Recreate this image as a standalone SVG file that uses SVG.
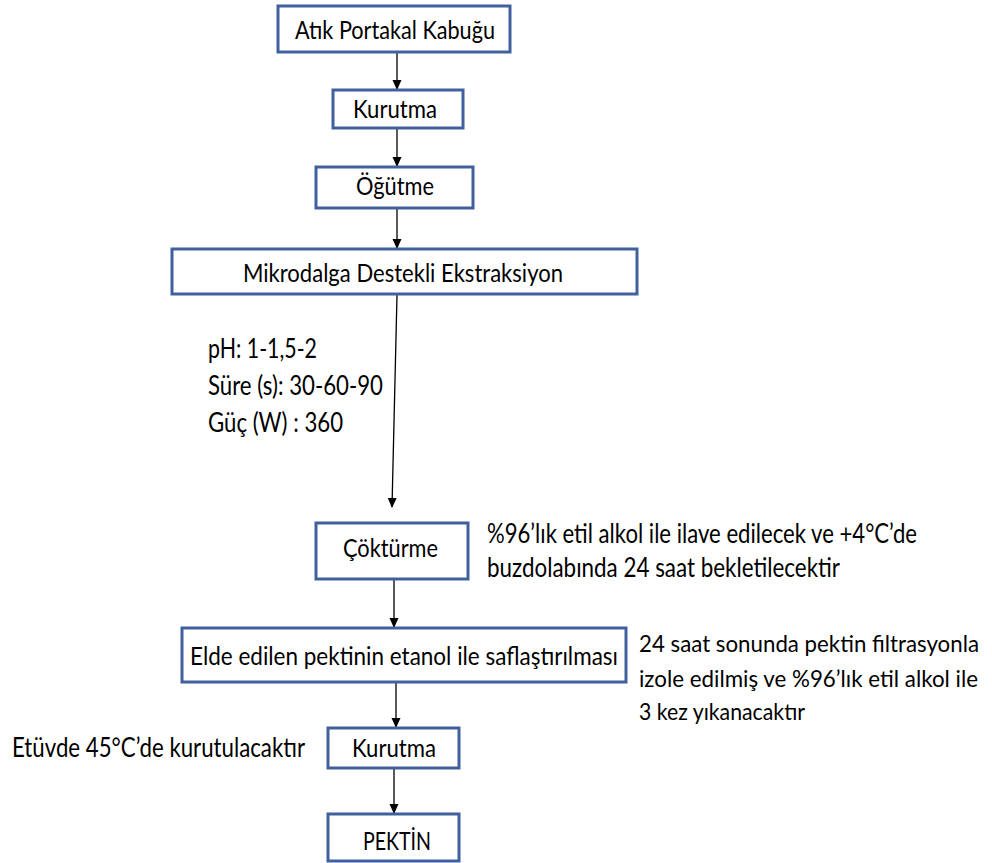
<svg xmlns="http://www.w3.org/2000/svg" width="992" height="863" viewBox="0 0 992 863">
<style>
.box{fill:#fff;stroke:#41609E;stroke-width:3}
.t{font-family:Lato,"Open Sans","Noto Sans",sans-serif;font-size:25px;fill:#000}
.s{font-family:Lato,"Open Sans","Noto Sans",sans-serif;font-size:26px;fill:#000}
.r{font-family:Lato,"Open Sans","Noto Sans",sans-serif;font-size:24px;fill:#000}
.c{stroke:#000;stroke-width:1.3;fill:none;marker-end:url(#ah)}
</style>
<defs>
<marker id="ah" markerWidth="10" markerHeight="12" refX="9" refY="5" orient="auto" markerUnits="userSpaceOnUse" viewBox="0 0 10 10">
<path d="M0,0.5 L10,5 L0,9.5 Z" fill="#000"/>
</marker>
</defs>
<rect width="992" height="863" fill="#fff"/>
<g id="connectors">
<line class="c" x1="397" y1="53" x2="397" y2="89"/>
<line class="c" x1="397" y1="129" x2="397" y2="166"/>
<line class="c" x1="397" y1="209" x2="397" y2="248"/>
<line class="c" x1="397" y1="295" x2="392" y2="507"/>
<line class="c" x1="394" y1="580" x2="394" y2="627"/>
<line class="c" x1="396" y1="683" x2="396" y2="727"/>
<line class="c" x1="394" y1="769" x2="394" y2="813"/>
</g>
<g id="n1"><rect class="box" x="278" y="6" width="232" height="46"/><text class="t" x="295" y="39" textLength="200" lengthAdjust="spacingAndGlyphs">Atık Portakal Kabuğu</text></g>
<g id="n2"><rect class="box" x="333" y="90" width="130" height="38"/><text class="t" x="353" y="118" textLength="84" lengthAdjust="spacingAndGlyphs">Kurutma</text></g>
<g id="n3"><rect class="box" x="316" y="167" width="157" height="41"/><text class="t" x="356" y="195" textLength="78" lengthAdjust="spacingAndGlyphs">Öğütme</text></g>
<g id="n4"><rect class="box" x="172" y="249" width="465" height="45"/><text class="t" x="243" y="282" textLength="320" lengthAdjust="spacingAndGlyphs">Mikrodalga Destekli Ekstraksiyon</text></g>
<g id="params">
<text class="s" x="208" y="358" textLength="109" lengthAdjust="spacingAndGlyphs">pH: 1-1,5-2</text>
<text class="s" x="208" y="395" textLength="175" lengthAdjust="spacingAndGlyphs">Süre (s): 30-60-90</text>
<text class="s" x="208" y="432" textLength="135" lengthAdjust="spacingAndGlyphs">Güç (W) : 360</text>
</g>
<g id="n5"><rect class="box" x="316" y="523" width="152" height="56"/><text class="t" x="343" y="557" textLength="95" lengthAdjust="spacingAndGlyphs">Çöktürme</text></g>
<g id="note1">
<text class="s" x="487" y="543" textLength="430" lengthAdjust="spacingAndGlyphs">%96’lık etil alkol ile ilave edilecek ve +4°C’de</text>
<text class="s" x="487" y="577" textLength="353" lengthAdjust="spacingAndGlyphs">buzdolabında 24 saat bekletilecektir</text>
</g>
<g id="n6"><rect class="box" x="182" y="628" width="444" height="54"/><text class="t" x="190" y="665" textLength="428" lengthAdjust="spacingAndGlyphs">Elde edilen pektinin etanol ile saflaştırılması</text></g>
<g id="note2">
<text class="r" x="639" y="652" textLength="340" lengthAdjust="spacingAndGlyphs">24 saat sonunda pektin filtrasyonla</text>
<text class="r" x="639" y="687" textLength="339" lengthAdjust="spacingAndGlyphs">izole edilmiş ve %96’lık etil alkol ile</text>
<text class="r" x="639" y="720" textLength="166" lengthAdjust="spacingAndGlyphs">3 kez yıkanacaktır</text>
</g>
<g id="note3"><text class="s" x="12" y="757" textLength="293" lengthAdjust="spacingAndGlyphs">Etüvde 45°C’de kurutulacaktır</text></g>
<g id="n7"><rect class="box" x="328" y="728" width="131" height="40"/><text class="t" x="352" y="757" textLength="84" lengthAdjust="spacingAndGlyphs">Kurutma</text></g>
<g id="n8"><rect class="box" x="328" y="814" width="131" height="47"/><text class="t" x="363" y="850" textLength="68" lengthAdjust="spacingAndGlyphs">PEKTİN</text></g>
</svg>
